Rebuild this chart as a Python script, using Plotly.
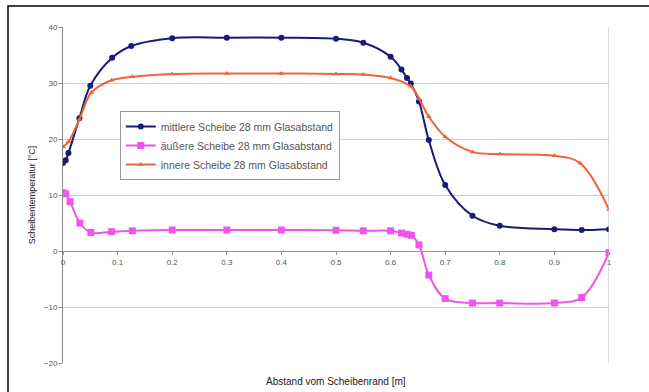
import plotly.graph_objects as go

x_mid = [0, 0.005, 0.01, 0.03, 0.05, 0.09, 0.125, 0.2, 0.3, 0.4, 0.5, 0.55, 0.6, 0.62, 0.63, 0.637, 0.652, 0.67, 0.7, 0.75, 0.8, 0.9, 0.95, 1.0]
y_mid = [15.7, 16.2, 17.5, 23.7, 29.5, 34.5, 36.6, 38.0, 38.1, 38.1, 37.9, 37.2, 34.7, 32.4, 30.9, 29.9, 26.7, 19.8, 11.8, 6.3, 4.5, 3.9, 3.75, 3.9]

x_out = [0, 0.005, 0.013, 0.031, 0.051, 0.089, 0.127, 0.2, 0.3, 0.4, 0.5, 0.55, 0.6, 0.62, 0.63, 0.638, 0.652, 0.67, 0.7, 0.75, 0.8, 0.9, 0.95, 1.0]
y_out = [10.4, 10.2, 8.8, 5.0, 3.3, 3.45, 3.6, 3.75, 3.75, 3.75, 3.7, 3.6, 3.6, 3.2, 3.0, 2.8, 1.1, -4.3, -8.5, -9.3, -9.3, -9.3, -8.3, -0.3]

x_inn = [0, 0.01, 0.03, 0.052, 0.089, 0.127, 0.2, 0.3, 0.4, 0.5, 0.55, 0.6, 0.637, 0.652, 0.67, 0.7, 0.75, 0.8, 0.9, 0.947, 1.0]
y_inn = [18.6, 19.5, 23.5, 28.3, 30.5, 31.1, 31.6, 31.7, 31.7, 31.6, 31.5, 30.9, 29.4, 27.2, 24.0, 20.4, 17.7, 17.3, 17.0, 15.7, 7.4]

names = ["mittlere Scheibe 28 mm Glasabstand",
         "äußere Scheibe 28 mm Glasabstand",
         "innere Scheibe 28 mm Glasabstand"]

x_ticks = [0, 0.1, 0.2, 0.3, 0.4, 0.5, 0.6, 0.7, 0.8, 0.9, 1]
x_labels = ["0", "0.1", "0.2", "0.3", "0.4", "0.5", "0.6", "0.7", "0.8", "0.9", "1"]
y_ticks = [-20, -10, 0, 10, 20, 30, 40]

FONT = "Liberation Sans, Arial, sans-serif"

fig = go.Figure()
fig.add_trace(go.Scatter(x=x_mid, y=y_mid, name=names[0], mode="lines+markers",
                         line=dict(color="#1a1a7a", width=2, shape="spline", smoothing=1.0),
                         marker=dict(symbol="circle", size=6, color="#1a1a7a")))
fig.add_trace(go.Scatter(x=x_out, y=y_out, name=names[1], mode="lines+markers",
                         line=dict(color="#ee55ee", width=2, shape="spline", smoothing=1.0),
                         marker=dict(symbol="square", size=7, color="#ee55ee")))
fig.add_trace(go.Scatter(x=x_inn, y=y_inn, name=names[2], mode="lines+markers",
                         line=dict(color="#f0643c", width=2, shape="spline", smoothing=1.0),
                         marker=dict(symbol="triangle-up", size=5, color="#f0643c")))

fig.update_layout(
    width=649, height=392,
    margin=dict(l=63, r=40, t=27, b=29),
    paper_bgcolor="white", plot_bgcolor="white",
    font=dict(family=FONT, size=8, color="#444"),
    showlegend=True,
    legend=dict(x=0.104, y=0.75, xanchor="left", yanchor="top",
                bgcolor="white", bordercolor="#999", borderwidth=1,
                font=dict(size=10.5, color="#555"), tracegroupgap=0,
                itemwidth=30),
    xaxis=dict(range=[0, 1], tickvals=x_ticks, ticktext=x_labels,
               showgrid=False, zeroline=False,
               showline=True, linecolor="#999", linewidth=1,
               anchor="free", position=1/3, ticks="outside", ticklen=3,
               tickcolor="#999", tickfont=dict(size=8, color="#555")),
    yaxis=dict(range=[-20, 40], tickvals=y_ticks, showgrid=True,
               gridcolor="#cfcfcf", gridwidth=1, zeroline=False,
               showline=True, linecolor="#888", linewidth=1,
               ticks="outside", ticklen=3, tickcolor="#888",
               tickfont=dict(size=8, color="#555"),
               title=dict(text="Scheibentemperatur [°C]", font=dict(size=9, color="#222"), standoff=6)),
    shapes=[
        dict(type="line", xref="x", yref="y", x0=1, x1=1, y0=-20, y1=40,
             line=dict(color="#bbb", width=1)),
        dict(type="rect", xref="paper", yref="paper",
             x0=-55/546, x1=1.2, y0=-0.2, y1=1 + 21/336,
             line=dict(color="black", width=1.5), layer="below"),
    ],
    annotations=[
        dict(text="Abstand vom Scheibenrand [m]", xref="paper", yref="paper",
             x=(336 - 63) / 546, y=(363 - 381) / 336, xanchor="center", yanchor="middle",
             showarrow=False, font=dict(size=10, color="#222", family=FONT)),
    ],
)

fig.write_html("out.html", config={"displayModeBar": False},
               post_script="document.body.style.margin='0';")
